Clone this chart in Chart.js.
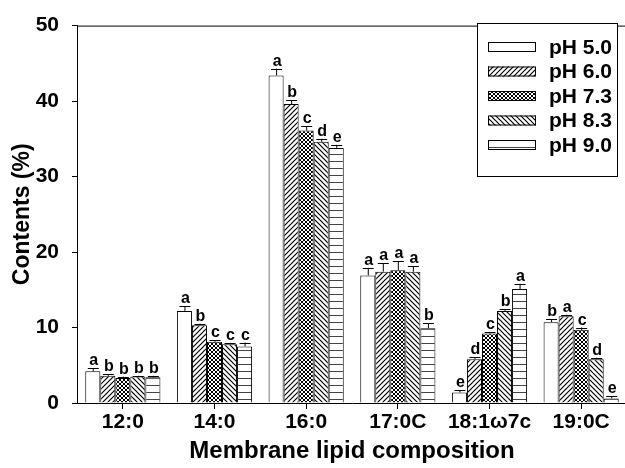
<!DOCTYPE html>
<html>
<head>
<meta charset="utf-8">
<script src="https://cdn.jsdelivr.net/npm/chart.js@4/dist/chart.umd.min.js"></script>
<style>
  html, body { margin: 0; padding: 0; background: #fff; overflow: hidden; }
</style>
</head>
<body>
<canvas id="lipidChart" width="640" height="468"></canvas>
<script>
// categories and values
const categories = ["12:0", "14:0", "16:0", "17:0C", "18:1\u03c97c", "19:0C"];
const seriesNames = ["pH 5.0", "pH 6.0", "pH 7.3", "pH 8.3", "pH 9.0"];

const ph50 = [4.2, 12.2, 43.4, 16.9, 1.4, 10.7];
const ph60 = [3.6, 10.3, 39.6, 17.4, 5.8, 11.5];
const ph73 = [3.3, 8.1, 36.1, 17.6, 9.2, 9.7];
const ph83 = [3.5, 7.8, 34.6, 17.4, 12.2, 5.8];
const ph90 = [3.4, 7.5, 33.8, 9.9, 15.1, 0.6];

const err50 = [0.4, 0.6, 0.9, 1.0, 0.3, 0.4];
const err60 = [0.2, 0.2, 0.5, 1.1, 0.3, 0.2];
const err73 = [0.2, 0.2, 0.6, 1.2, 0.2, 0.3];
const err83 = [0.1, 0.1, 0.4, 0.7, 0.2, 0.2];
const err90 = [0.2, 0.5, 0.4, 0.7, 0.7, 0.3];

const let50 = ["a", "a", "a", "a", "e", "b"];
const let60 = ["b", "b", "b", "a", "d", "a"];
const let73 = ["b", "c", "c", "a", "c", "c"];
const let83 = ["b", "c", "d", "a", "b", "d"];
const let90 = ["b", "c", "e", "b", "a", "e"];

const yTicks = [0, 10, 20, 30, 40, 50];

const FONT = "'Liberation Sans', Arial, sans-serif";

// fill patterns like the printed figure
function makePattern(kind) {
    const c = document.createElement("canvas");
    const g = c.getContext("2d");
    let s = 5;
    if (kind === "cross") s = 4;
    if (kind === "horiz") s = 7;
    c.width = s;
    c.height = s;
    g.fillStyle = "#fff";
    g.fillRect(0, 0, s, s);
    g.strokeStyle = "#000";
    g.lineWidth = kind === "cross" ? 1 : 1.2;
    if (kind === "fwd" || kind === "cross") {
        g.beginPath();
        g.moveTo(-1, s + 1); g.lineTo(s + 1, -1);
        g.moveTo(-1, 1); g.lineTo(1, -1);
        g.moveTo(s - 1, s + 1); g.lineTo(s + 1, s - 1);
        g.stroke();
    }
    if (kind === "back" || kind === "cross") {
        g.beginPath();
        g.moveTo(-1, -1); g.lineTo(s + 1, s + 1);
        g.moveTo(s - 1, -1); g.lineTo(s + 1, 1);
        g.moveTo(-1, s - 1); g.lineTo(1, s + 1);
        g.stroke();
    }
    if (kind === "horiz") {
        g.strokeStyle = "#444";
        g.lineWidth = 1;
        g.beginPath();
        g.moveTo(0, 0.5); g.lineTo(s, 0.5);
        g.stroke();
    }
    return g.createPattern(c, "repeat");
}

const ctx0 = document.getElementById("lipidChart").getContext("2d");
const fills = ["#ffffff", makePattern("fwd"), makePattern("cross"), makePattern("back"), makePattern("horiz")];
const values = [ph50, ph60, ph73, ph83, ph90];
const errors = [err50, err60, err73, err83, err90];
const letters = [let50, let60, let73, let83, let90];

const datasets = seriesNames.map(function (name, i) {
    return {
        label: name,
        data: values[i],
        errors: errors[i],
        letters: letters[i],
        backgroundColor: fills[i],
        borderColor: "#000",
        borderWidth: 1,
        categoryPercentage: 0.82,
        barPercentage: 1.0
    };
});

// error whiskers (upward only) and significance letters
const errorBars = {
    id: "errorBars",
    afterDatasetsDraw(chart) {
        const ctx = chart.ctx;
        const y = chart.scales.y;
        ctx.save();
        chart.data.datasets.forEach(function (ds, di) {
            const meta = chart.getDatasetMeta(di);
            meta.data.forEach(function (bar, i) {
                const top = y.getPixelForValue(ds.data[i] + ds.errors[i]);
                ctx.strokeStyle = "#000";
                ctx.lineWidth = 1;
                ctx.beginPath();
                ctx.moveTo(bar.x + 0.5, bar.y);
                ctx.lineTo(bar.x + 0.5, top);
                ctx.moveTo(bar.x - 5, Math.round(top) + 0.5);
                ctx.lineTo(bar.x + 6, Math.round(top) + 0.5);
                ctx.stroke();
                ctx.fillStyle = "#000";
                ctx.font = "bold 16px " + FONT;
                ctx.textAlign = "center";
                ctx.textBaseline = "alphabetic";
                ctx.fillText(ds.letters[i], bar.x + 1, top - 3);
            });
        });
        ctx.restore();
    }
};

// frame top line and the boxed legend in the upper right
const frameLegend = {
    id: "frameLegend",
    afterDraw(chart) {
        const ctx = chart.ctx;
        const a = chart.chartArea;
        ctx.save();
        ctx.strokeStyle = "#000";
        ctx.lineWidth = 1;
        ctx.beginPath();
        ctx.moveTo(a.left, a.top + 0.5);
        ctx.lineTo(a.right, a.top + 0.5);
        ctx.stroke();

        const bx = 477.5, by = 23.5, bw = 140, bh = 153;
        ctx.fillStyle = "#fff";
        ctx.fillRect(bx, by, bw, bh);
        ctx.strokeRect(bx, by, bw, bh);
        chart.data.datasets.forEach(function (ds, i) {
            const cy = 47 + i * 24.5;
            ctx.fillStyle = ds.backgroundColor;
            ctx.fillRect(488, cy - 5, 48, 10);
            ctx.strokeRect(488.5, cy - 4.5, 47, 9);
            ctx.fillStyle = "#000";
            ctx.font = "bold 21px " + FONT;
            ctx.textAlign = "left";
            ctx.textBaseline = "middle";
            ctx.fillText(ds.label, 549, cy + 1);
        });
        ctx.restore();
    }
};

new Chart(ctx0, {
    type: "bar",
    data: { labels: categories, datasets: datasets },
    options: {
        responsive: false,
        animation: false,
        layout: { padding: { left: 0, top: 20, right: 13, bottom: 0 } },
        plugins: {
            legend: { display: false },
            tooltip: { enabled: false }
        },
        scales: {
            x: {
                offset: true,
                grid: { display: true, offset: false, drawOnChartArea: false, tickLength: 6, color: "#000" },
                border: { display: true, color: "#000", width: 1 },
                ticks: { color: "#000", font: { family: FONT, size: 21, weight: "bold" }, padding: 1, maxRotation: 0 },
                title: { display: true, text: "Membrane lipid composition", color: "#000", font: { family: FONT, size: 24, weight: "bold" }, padding: { top: 2, bottom: 2 } },
                afterFit(scale) { scale.height = 65; }
            },
            y: {
                min: 0,
                max: 50,
                afterBuildTicks(scale) { scale.ticks = yTicks.map(v => ({ value: v })); },
                grid: { display: true, drawOnChartArea: false, tickLength: 5, color: "#000" },
                border: { display: true, color: "#000", width: 1 },
                ticks: { color: "#000", font: { family: FONT, size: 21, weight: "bold" }, padding: 13 },
                title: { display: true, text: "Contents (%)", color: "#000", font: { family: FONT, size: 23, weight: "bold" }, padding: { top: 9, bottom: 9 } },
                afterFit(scale) { scale.width = 77; }
            }
        }
    },
    plugins: [errorBars, frameLegend]
});
</script>
</body>
</html>
